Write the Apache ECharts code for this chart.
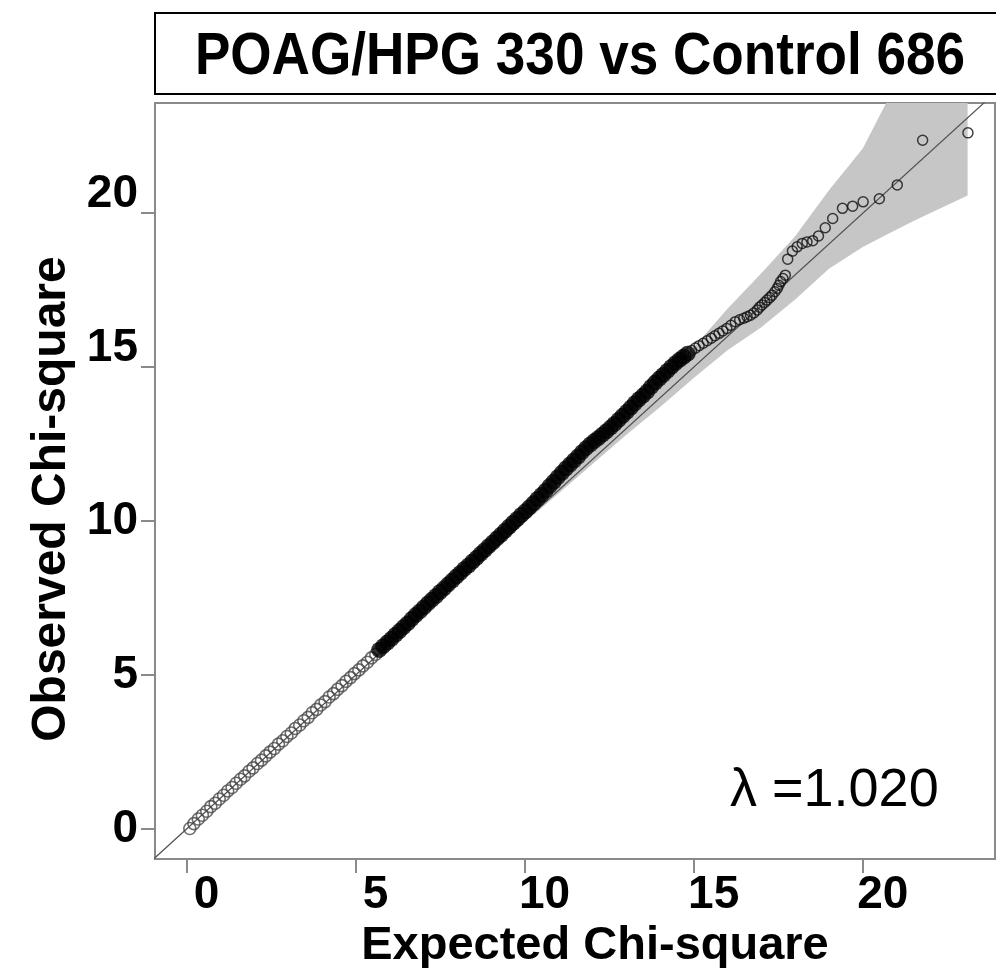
<!DOCTYPE html>
<html>
<head>
<meta charset="utf-8">
<title>QQ plot</title>
<script src="https://cdn.jsdelivr.net/npm/echarts@6/dist/echarts.min.js"></script>
<style>
  html, body { margin: 0; padding: 0; background: #fff; }
  #chart { width: 996px; height: 968px; }
</style>
</head>
<body>
<div id="chart"></div>
<script>
// tick labels
const xTicks = [0, 5, 10, 15, 20]
const yTicks = [0, 5, 10, 15, 20]
// the two upper y labels sit a little above their ticks in the original figure
const yTicksLow = [0, 5, 10]
const yTicksHigh = [15, 20]

// 95% band around the expected line
const bandX = [8.0, 10.0, 12.0, 13.0, 14.0, 15.0, 16.0, 17.0, 18.0, 19.0, 20.0, 20.7, 21.5, 23.1]
const bandLo = [8.0, 9.95, 11.85, 12.8, 13.7, 14.65, 15.55, 16.3, 17.2, 18.2, 18.9, 19.3, 19.75, 20.58]
const bandHi = [8.0, 10.1, 12.2, 13.3, 14.45, 15.65, 16.9, 18.05, 19.25, 20.75, 22.1, 23.6, 23.6, 23.6]

// expected = observed line
const refLine = [[-1, -1], [24, 24]]

// low chi-square points (grey open circles)
const lowPts = [
  [0.10, 0.02], [0.22, 0.18], [0.35, 0.33], [0.47, 0.45], [0.60, 0.58], [0.72, 0.73],
  [0.85, 0.84], [0.97, 0.98], [1.10, 1.10], [1.22, 1.24], [1.35, 1.35], [1.47, 1.49],
  [1.60, 1.62], [1.72, 1.73], [1.85, 1.88], [1.97, 1.99], [2.10, 2.13], [2.22, 2.24],
  [2.35, 2.38], [2.47, 2.50], [2.60, 2.62], [2.72, 2.76], [2.85, 2.87], [2.97, 3.01],
  [3.10, 3.12], [3.22, 3.27], [3.35, 3.38], [3.47, 3.52], [3.60, 3.63], [3.72, 3.78],
  [3.85, 3.89], [3.97, 4.03], [4.10, 4.14], [4.22, 4.29], [4.35, 4.40], [4.47, 4.54],
  [4.60, 4.66], [4.72, 4.80], [4.85, 4.92], [4.97, 5.05], [5.10, 5.17], [5.22, 5.30],
  [5.35, 5.42], [5.47, 5.56], [5.60, 5.68]
]

// dense middle part (solid black)
const densePts = [
  [5.70, 5.82], [5.82, 5.94], [5.94, 6.06], [6.06, 6.18], [6.18, 6.31], [6.30, 6.43],
  [6.42, 6.56], [6.54, 6.68], [6.66, 6.82], [6.78, 6.95], [6.90, 7.07], [7.02, 7.20],
  [7.14, 7.33], [7.26, 7.45], [7.38, 7.57], [7.50, 7.70], [7.62, 7.82], [7.74, 7.95],
  [7.86, 8.07], [7.98, 8.20], [8.10, 8.32], [8.22, 8.45], [8.34, 8.56], [8.46, 8.69],
  [8.58, 8.81], [8.70, 8.94], [8.82, 9.06], [8.94, 9.19], [9.06, 9.31], [9.18, 9.44],
  [9.30, 9.56], [9.42, 9.69], [9.54, 9.82], [9.66, 9.95], [9.78, 10.07], [9.90, 10.20],
  [10.02, 10.32], [10.14, 10.45], [10.26, 10.58], [10.38, 10.72], [10.50, 10.85], [10.62, 10.99],
  [10.74, 11.14], [10.86, 11.28], [10.98, 11.43], [11.10, 11.57], [11.22, 11.71], [11.34, 11.84],
  [11.46, 11.97], [11.58, 12.10], [11.70, 12.24], [11.82, 12.37], [11.94, 12.49], [12.06, 12.60],
  [12.18, 12.70], [12.30, 12.81], [12.42, 12.92], [12.54, 13.04], [12.66, 13.16], [12.78, 13.29],
  [12.90, 13.42], [13.02, 13.55], [13.14, 13.69], [13.26, 13.83], [13.38, 13.96], [13.50, 14.08],
  [13.62, 14.21], [13.74, 14.36], [13.86, 14.50], [13.98, 14.63], [14.10, 14.75], [14.22, 14.88],
  [14.34, 15.01], [14.46, 15.13], [14.58, 15.24], [14.70, 15.34], [14.82, 15.44]
]

// upper tail (black open circles)
const tailPts = [
  [14.94, 15.54], [15.05, 15.62], [15.16, 15.70], [15.28, 15.78], [15.40, 15.86], [15.52, 15.94],
  [15.63, 16.02], [15.75, 16.10], [15.86, 16.18], [15.98, 16.26], [16.10, 16.36], [16.23, 16.48],
  [16.36, 16.54], [16.48, 16.59], [16.58, 16.64], [16.68, 16.69], [16.78, 16.76], [16.88, 16.86],
  [16.95, 16.95], [17.02, 17.02], [17.10, 17.10], [17.17, 17.18], [17.25, 17.26], [17.32, 17.34],
  [17.40, 17.45], [17.47, 17.56], [17.52, 17.66], [17.57, 17.78], [17.64, 17.88], [17.71, 17.99],
  [17.78, 18.51], [17.92, 18.77], [18.06, 18.91], [18.21, 19.02], [18.35, 19.07], [18.52, 19.11],
  [18.69, 19.26], [18.89, 19.53], [19.11, 19.83], [19.40, 20.16], [19.70, 20.23], [20.01, 20.37],
  [20.49, 20.47], [21.02, 20.92], [21.77, 22.37], [23.11, 22.61]
]

const FONT = '"Liberation Sans", Arial, sans-serif'
const AXIS_GREY = '#8a8a8a'
const chart = echarts.init(document.getElementById('chart'))

const yLabelBase = { fontFamily: FONT, fontWeight: 'bold', fontSize: 46, color: '#000', margin: 17 }

const option = {
  animation: false,
  backgroundColor: '#fff',
  grid: {
    left: 155, right: 1, top: 103, bottom: 109,
    containLabel: false,
    outerBoundsMode: 'none',
    show: true, borderColor: AXIS_GREY, borderWidth: 2
  },
  xAxis: {
    type: 'value',
    min: -0.93, max: 23.91,
    name: 'Expected Chi-square',
    nameLocation: 'middle',
    nameGap: 62,
    nameTextStyle: { fontFamily: FONT, fontWeight: 'bold', fontSize: 47, color: '#000', padding: [0, 0, 0, 40] },
    axisLine: { onZero: false, lineStyle: { color: AXIS_GREY, width: 2 } },
    axisTick: { length: 14, lineStyle: { color: AXIS_GREY, width: 2 }, customValues: xTicks },
    axisLabel: { fontFamily: FONT, fontWeight: 'bold', fontSize: 46, color: '#000', margin: 13, padding: [0, 0, 0, 40], customValues: xTicks },
    splitLine: { show: false }
  },
  yAxis: [
    {
      type: 'value',
      min: -0.97, max: 23.58,
      name: 'Observed Chi-square',
      nameLocation: 'middle',
      nameGap: 77,
      nameRotate: 90,
      nameTextStyle: { fontFamily: FONT, fontWeight: 'bold', fontSize: 48, color: '#000', padding: [0, 36, 0, 0] },
      axisLine: { onZero: false, lineStyle: { color: AXIS_GREY, width: 2 } },
      axisTick: { length: 14, lineStyle: { color: AXIS_GREY, width: 2 }, customValues: yTicks },
      axisLabel: Object.assign({ customValues: yTicksLow }, yLabelBase),
      splitLine: { show: false }
    },
    {
      type: 'value',
      position: 'left',
      min: -0.97, max: 23.58,
      axisLine: { show: false, onZero: false },
      axisTick: { show: false },
      axisLabel: Object.assign({ customValues: yTicksHigh, verticalAlign: 'bottom', lineHeight: 38 }, yLabelBase),
      splitLine: { show: false }
    }
  ],
  graphic: [
    {
      type: 'rect',
      shape: { x: 155, y: 13, width: 850, height: 81 },
      style: { fill: '#fff', stroke: '#000', lineWidth: 2 }
    },
    {
      type: 'text',
      x: 580, y: 57,
      scaleX: 0.885,
      style: {
        text: 'POAG/HPG 330 vs Control 686',
        font: 'bold 60px ' + FONT,
        fill: '#000',
        textAlign: 'center',
        textVerticalAlign: 'middle'
      }
    },
    {
      type: 'text',
      x: 730, y: 791,
      style: {
        text: 'λ =1.020',
        font: '54px ' + FONT,
        fill: '#000',
        textAlign: 'left',
        textVerticalAlign: 'middle'
      }
    }
  ],
  series: [
    {
      type: 'custom',
      clip: true,
      silent: true,
      data: bandX.map((x, i) => [x, bandLo[i], bandHi[i]]),
      encode: { x: 0, y: [1, 2] },
      renderItem: function (params, api) {
        if (params.dataIndex !== 0) return null
        const pts = []
        for (let i = 0; i < bandX.length; i++) pts.push(api.coord([bandX[i], bandLo[i]]))
        for (let i = bandX.length - 1; i >= 0; i--) pts.push(api.coord([bandX[i], bandHi[i]]))
        return {
          type: 'polygon',
          shape: { points: pts },
          style: { fill: '#c6c6c6', stroke: null }
        }
      },
      z: 1
    },
    {
      type: 'line',
      data: refLine,
      symbol: 'none',
      lineStyle: { color: '#505050', width: 1.2 },
      z: 2
    },
    {
      type: 'scatter',
      data: lowPts,
      symbol: 'circle',
      symbolSize: 12,
      itemStyle: { color: 'rgba(0,0,0,0)', borderColor: '#4a4a4a', borderWidth: 1.6 },
      z: 3
    },
    {
      type: 'scatter',
      data: densePts,
      symbol: 'circle',
      symbolSize: 16,
      itemStyle: { color: '#000' },
      z: 3
    },
    {
      type: 'scatter',
      data: tailPts,
      symbol: 'circle',
      symbolSize: 10,
      itemStyle: { color: 'rgba(0,0,0,0)', borderColor: '#111', borderWidth: 1.5 },
      z: 3
    }
  ]
}

chart.setOption(option)
</script>
</body>
</html>
